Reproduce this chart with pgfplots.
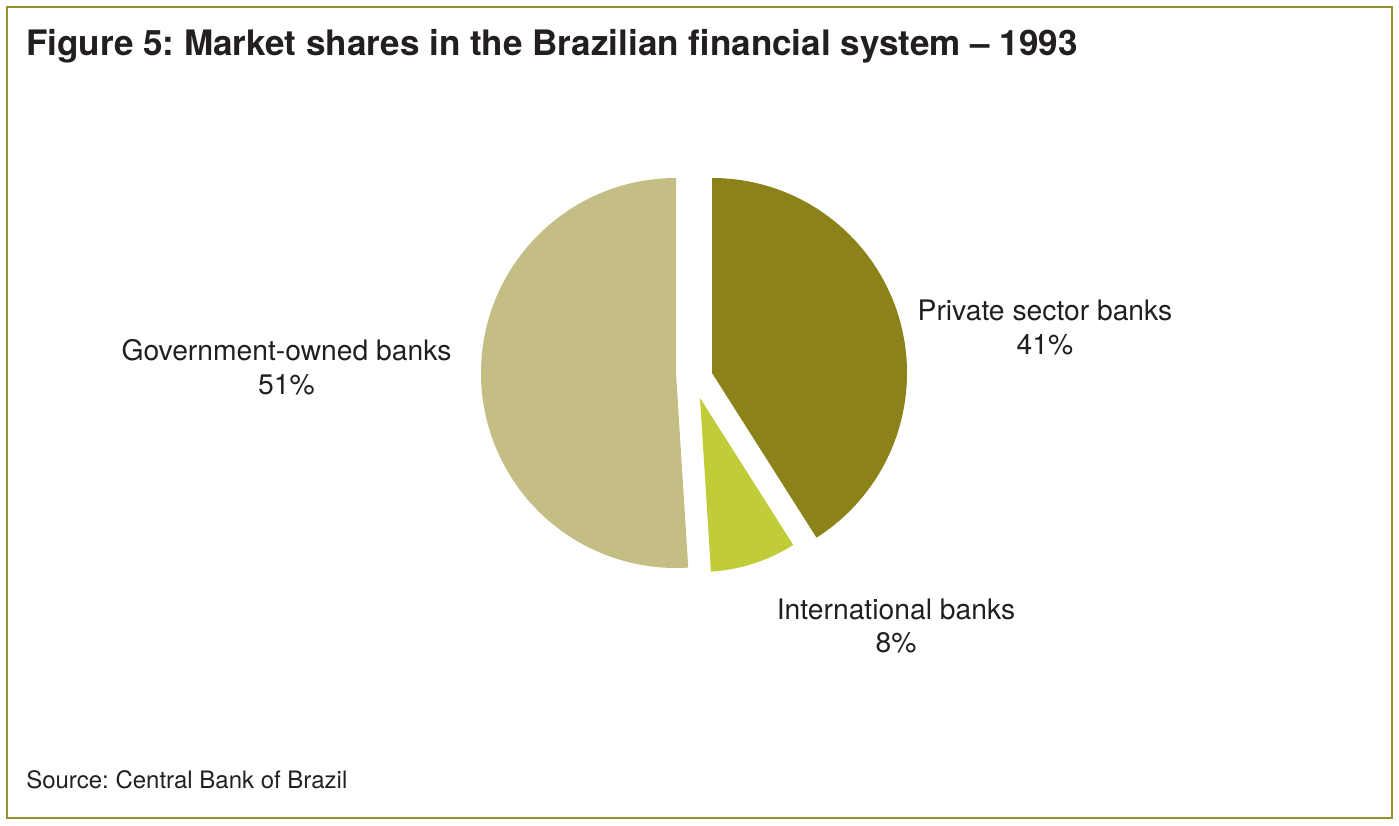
\documentclass[border=0pt]{standalone}
\usepackage{pgfplots}
\pgfplotsset{compat=1.18}
\usepackage{pgfplotstable}
\usepackage{fontspec}
\setmainfont{TeX Gyre Heros}
\frenchspacing
\definecolor{govc}{HTML}{C4BD84}
\definecolor{privc}{HTML}{8B821A}
\definecolor{intlc}{HTML}{C0CD39}
\definecolor{framec}{HTML}{958F2F}
\definecolor{txt}{HTML}{231F20}
\pgfplotstableread{
sector share
Government 51
Private 41
International 8
}\shares
\begin{document}
\begin{tikzpicture}
\pgfplotstablegetelem{0}{share}\of\shares \let\govv\pgfplotsretval
\pgfplotstablegetelem{1}{share}\of\shares \let\privv\pgfplotsretval
\pgfplotstablegetelem{2}{share}\of\shares \let\intlv\pgfplotsretval
\pgfmathsetmacro{\govend}{90+3.6*\govv}
\pgfmathsetmacro{\privend}{90-3.6*\privv}
\pgfmathsetmacro{\intlend}{\privend-3.6*\intlv}
\begin{axis}[
  scale only axis, width=1049.25pt, height=618.75pt,
  xmin=0, xmax=1399, ymin=0, ymax=825, y dir=reverse,
  hide axis, clip=false]
\path (axis cs:0,0) rectangle (axis cs:1399,825);
\draw[framec, line width=1.6pt] (axis cs:7,7) rectangle (axis cs:1392,818);
\fill[govc] (axis cs:676,373) -- ++(90:146.25pt) arc[start angle=90, end angle=\govend, radius=146.25pt] -- cycle;
\fill[privc] (axis cs:712,373) -- ++(90:146.25pt) arc[start angle=90, end angle=\privend, radius=146.25pt] -- cycle;
\fill[intlc] (axis cs:700,398) -- ++(\privend:130.5pt) arc[start angle=\privend, end angle=\intlend, radius=130.5pt] -- cycle;
\node[anchor=base west, inner sep=0pt, text=txt, font=\bfseries\fontsize{26.3}{32}\selectfont] at (axis cs:26,55) {Figure 5: Market shares in the Brazilian financial system – 1993};
\node[anchor=base, inner sep=0pt, text=txt, font=\fontsize{21.2}{25}\selectfont] at (axis cs:286.5,360) {Government-owned banks};
\node[anchor=base, inner sep=0pt, text=txt, font=\fontsize{21.2}{25}\selectfont] at (axis cs:286.5,394) {51\%};
\node[anchor=base, inner sep=0pt, text=txt, font=\fontsize{21.2}{25}\selectfont] at (axis cs:1045,320) {Private sector banks};
\node[anchor=base, inner sep=0pt, text=txt, font=\fontsize{21.2}{25}\selectfont] at (axis cs:1045,354) {41\%};
\node[anchor=base, inner sep=0pt, text=txt, font=\fontsize{21.2}{25}\selectfont] at (axis cs:896,619) {International banks};
\node[anchor=base, inner sep=0pt, text=txt, font=\fontsize{21.2}{25}\selectfont] at (axis cs:896,652) {8\%};
\node[anchor=base west, inner sep=0pt, text=txt, font=\fontsize{18}{22}\selectfont] at (axis cs:26,788) {Source: Central Bank of Brazil};
\end{axis}
\end{tikzpicture}
\end{document}
